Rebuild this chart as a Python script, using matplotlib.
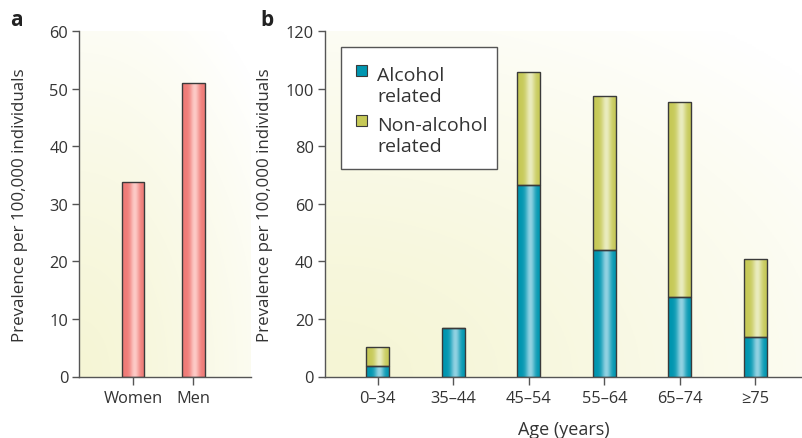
import numpy as np
import matplotlib
matplotlib.use("Agg")
import matplotlib.pyplot as plt
from matplotlib.colors import to_rgb
from matplotlib.patches import Rectangle

# panel a data
sex_labels = ["Women", "Men"]
sex_values = [33.8, 51.0]

# panel b data
age_labels = ["0\u201334", "35\u201344", "45\u201354", "55\u201364", "65\u201374", "\u226575"]
alcohol = [3.6, 16.8, 66.4, 44.1, 27.5, 13.6]
non_alcohol = [6.5, 0.0, 39.2, 53.3, 67.9, 27.1]
legend_labels = ["Alcohol\nrelated", "Non-alcohol\nrelated"]

plt.rcParams['font.family'] = ['Open Sans', 'DejaVu Sans']
TEXT = "#333333"
AXIS = "#555555"
EDGE = "#3a3a3a"

PINK = ("#ef7b77", "#fdcbc7")
TEAL = ("#0096b0", "#92d2e2")
OLIVE = ("#c6c957", "#eaecbf")

W, H = 803, 439


def px(x, y):
    # pixel position (from top-left) -> figure fraction
    return x / W, 1 - y / H


def gradient_row(base, light, n=64):
    b = np.array(to_rgb(base))
    l = np.array(to_rgb(light))
    t = np.linspace(0, 1, n)
    w = np.exp(-((t - 0.56) / 0.2) ** 2)
    return (b[None, :] * (1 - w[:, None]) + l[None, :] * w[:, None])[None, :, :]


def shade_bars(ax, bars, colors):
    img = gradient_row(*colors)
    for p in bars.patches:
        if p.get_height() <= 0:
            continue
        x0, y0 = p.get_x(), p.get_y()
        im = ax.imshow(img, extent=(x0, x0 + p.get_width(), y0, y0 + p.get_height()),
                       aspect='auto', zorder=2, interpolation='bilinear')
        im.set_clip_path(p)


def background(ax):
    n = 200
    xx, yy = np.meshgrid(np.linspace(0, 1, n), np.linspace(0, 1, n))
    r = np.sqrt((xx * 0.9) ** 2 + (yy * 1.0) ** 2) / 1.25
    w = np.clip(r, 0, 1) ** 1.3
    c0 = np.array([0.962, 0.962, 0.835])
    c1 = np.array([1.0, 1.0, 1.0])
    img = c0 * (1 - w[..., None]) + c1 * w[..., None]
    ax.imshow(img, extent=(0, 1, 0, 1), origin='lower', transform=ax.transAxes,
              aspect='auto', zorder=0)


def style(ax):
    for s in ["top", "right"]:
        ax.spines[s].set_visible(False)
    for s in ["left", "bottom"]:
        ax.spines[s].set_color(AXIS)
        ax.spines[s].set_linewidth(1.0)
    ax.tick_params(axis='y', direction='out', length=5, width=1, color=AXIS,
                   labelcolor=TEXT, labelsize=11.8, pad=3)
    ax.tick_params(axis='x', direction='out', length=6, width=1, color=AXIS,
                   labelcolor=TEXT, labelsize=11.8, pad=4)


fig = plt.figure(figsize=(W / 100, H / 100), dpi=100)
fig.patch.set_facecolor("white")

# ---- panel a
ax1 = fig.add_axes([79.3 / W, 61.5 / H, 171.7 / W, 345.5 / H])
xa = np.arange(len(sex_labels))
bars = ax1.bar(xa, sex_values, width=0.38, color='none', edgecolor=EDGE, linewidth=1.0, zorder=3)
shade_bars(ax1, bars, PINK)
background(ax1)
ax1.set_xlim(-0.89, 1.957)
ax1.set_ylim(0, 60)
ax1.set_yticks([0, 10, 20, 30, 40, 50, 60])
ax1.set_xticks(xa)
ax1.set_xticklabels(sex_labels)
ax1.set_ylabel("Prevalence per 100,000 individuals", color=TEXT, fontsize=12.2, va='center')
ax1.yaxis.set_label_coords((20 - 79.3) / 171.7, (377.5 - 205) / 345.5)
style(ax1)

# ---- panel b
ax2 = fig.add_axes([325 / W, 61.5 / H, 478 / W, 345.5 / H])
xb = np.arange(len(age_labels))
b1 = ax2.bar(xb, alcohol, width=0.305, color='none', edgecolor=EDGE, linewidth=1.0, zorder=3)
b2 = ax2.bar(xb, non_alcohol, bottom=alcohol, width=0.305, color='none', edgecolor=EDGE,
             linewidth=1.0, zorder=3)
shade_bars(ax2, b1, TEAL)
shade_bars(ax2, b2, OLIVE)
background(ax2)
ax2.set_xlim(-0.70, 5.63)
ax2.set_ylim(0, 120)
ax2.set_yticks(range(0, 121, 20))
ax2.set_xticks(xb)
ax2.set_xticklabels(age_labels)
ax2.set_ylabel("Prevalence per 100,000 individuals", color=TEXT, fontsize=12.2, va='center')
ax2.yaxis.set_label_coords((265 - 325) / 478, (377.5 - 205) / 345.5)
ax2.set_xlabel("Age (years)", color=TEXT, fontsize=13, va='center')
ax2.xaxis.set_label_coords(0.5, (377.5 - 430) / 345.5)
style(ax2)

# legend drawn by hand so the swatch sits by the first line of each label
frame = Rectangle(px(341, 170), (497 - 341) / W, (170 - 48) / H, transform=fig.transFigure,
                  facecolor="white", edgecolor=AXIS, linewidth=1.0, zorder=5)
fig.add_artist(frame)
for i, (lab, cols) in enumerate(zip(legend_labels, [TEAL, OLIVE])):
    base = 81 + i * 50
    sw = Rectangle(px(356, base - 4), 11 / W, 11 / H, transform=fig.transFigure,
                   facecolor=cols[0], edgecolor=EDGE, linewidth=0.8, zorder=6)
    fig.add_artist(sw)
    for j, line in enumerate(lab.split("\n")):
        fig.text(*px(377, base + j * 21.5), line, fontsize=14, color=TEXT,
                 va='baseline', ha='left', zorder=6)

fig.text(*px(10, 20), "a", fontsize=15, fontweight='bold', color="#222222", va='center')
fig.text(*px(260, 20), "b", fontsize=15, fontweight='bold', color="#222222", va='center')

fig.savefig("out.png", dpi=100)
